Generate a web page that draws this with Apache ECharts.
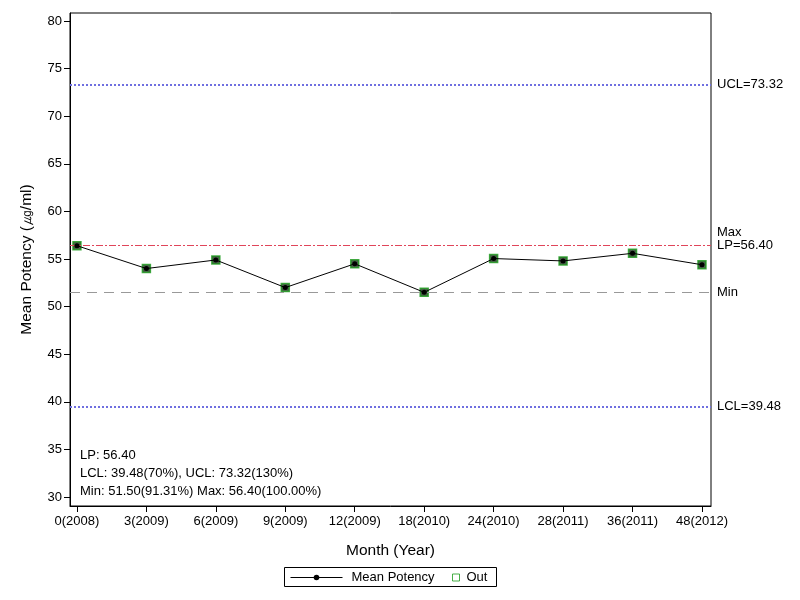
<!DOCTYPE html>
<html><head><meta charset="utf-8">
<script src="https://cdn.jsdelivr.net/npm/echarts@6/dist/echarts.min.js"></script>
<style>html,body{margin:0;padding:0;background:#fff}#c{width:800px;height:600px}</style>
</head><body><div id="c"></div>
<script>
const xLabels = ['0(2008)','3(2009)','6(2009)','9(2009)','12(2009)','18(2010)','24(2010)','28(2011)','36(2011)','48(2012)'];
const meanPotency = [56.4, 54.0, 54.9, 52.0, 54.5, 51.5, 55.05, 54.8, 55.6, 54.4];
const outValues = [56.4, 54.0, 54.9, 52.0, 54.5, 51.5, 55.05, 54.8, 55.6, 54.4];
const yTicks = [30,35,40,45,50,55,60,65,70,75,80];
const refLines = { UCL: 73.32, LCL: 39.48, LP: 56.40, Min: 51.50 };
const noteLines = ['LP: 56.40','LCL: 39.48(70%), UCL: 73.32(130%)','Min: 51.50(91.31%) Max: 56.40(100.00%)'];

const FONT = 'Liberation Sans, Arial, sans-serif';
const chart = echarts.init(document.getElementById('c'));
const idx = xLabels.map((_, i) => i);
const lbl = (t, extra) => Object.assign({show:true, position:'end', distance:6, formatter:t, color:'#000', fontSize:13, fontFamily:FONT}, extra||{});
chart.setOption({
  animation:false,
  textStyle:{fontFamily:FONT},
  grid:{left:70, right:89, top:13, bottom:94, show:true, borderColor:'#000', borderWidth:1, backgroundColor:'transparent'},
  xAxis:{type:'value', min:-0.1, max:9.13,
    name:'Month (Year)', nameLocation:'middle', nameGap:37, nameTextStyle:{fontSize:15.5, color:'#000', fontFamily:FONT},
    axisLine:{show:true, onZero:false, lineStyle:{color:'#000'}},
    axisTick:{show:true, inside:false, length:6, lineStyle:{color:'#000'}, customValues:idx},
    axisLabel:{color:'#000', fontSize:13, margin:9, customValues:idx, formatter:v => xLabels[Math.round(v)]},
    splitLine:{show:false}},
  yAxis:{type:'value', min:29.05, max:80.85,
    name:'Mean Potency (㎍/ml)', nameLocation:'middle', nameGap:35, nameTextStyle:{fontSize:15.5, color:'#000', fontFamily:FONT},
    axisLine:{show:true, onZero:false, lineStyle:{color:'#000'}},
    axisTick:{show:true, inside:false, length:6, lineStyle:{color:'#000'}, customValues:yTicks},
    axisLabel:{color:'#000', fontSize:13, margin:8, customValues:yTicks},
    splitLine:{show:false}},
  legend:[
    {left:290, top:571, itemGap:0, padding:0, textStyle:{fontSize:13, color:'#000', fontFamily:FONT, padding:[0,0,0,4]},
      itemWidth:52, itemHeight:7, lineStyle:{width:1}, data:[{name:'Mean Potency'}]},
    {left:452, top:571, padding:0, itemGap:0, textStyle:{fontSize:13, color:'#000', fontFamily:FONT, padding:[0,0,0,2]},
      itemWidth:7, itemHeight:7, data:[{name:'Out', icon:'rect', itemStyle:{color:'rgba(0,0,0,0)', borderColor:'#1a9a1a', borderWidth:1}}]}
  ],
  graphic: noteLines.map((t, i) => ({type:'text', left:80, top:449 + i*18, style:{text:t, fontSize:13, fill:'#000', fontFamily:FONT}}))
    .concat([{type:'rect', shape:{x:284.5, y:567.5, width:212, height:19}, style:{fill:'none', stroke:'#000', lineWidth:1}, silent:true}]),
  series:[
    {name:'Mean Potency', type:'line', data: meanPotency.map((v,i)=>[i,v]), symbol:'circle', symbolSize:5,
      lineStyle:{color:'#000', width:1}, itemStyle:{color:'#000'}, z:5,
      markLine:{silent:true, symbol:'none', animation:false, data:[
        {yAxis:refLines.UCL, lineStyle:{color:'#6f6fe0', type:[2,2], width:2}, label:lbl('UCL='+refLines.UCL.toFixed(2))},
        {yAxis:refLines.LCL, lineStyle:{color:'#6f6fe0', type:[2,2], width:2}, label:lbl('LCL='+refLines.LCL.toFixed(2))},
        {yAxis:refLines.LP, lineStyle:{color:'#e0455a', type:[7,2,2,2], width:1, opacity:1}, label:lbl('LP='+refLines.LP.toFixed(2))},
        {yAxis:refLines.Min, lineStyle:{color:'#999', type:[10,7], width:1}, label:lbl('Min', {padding:[3,0,0,0]})}
      ]}},
    {name:'Out', type:'scatter', data: outValues.map((v,i)=>[i,v]), symbol:'rect', symbolSize:8,
      itemStyle:{color:'#1c3a1c', borderColor:'#1a9a1a', borderWidth:1.5}, z:4,
      markLine:{silent:true, symbol:'none', animation:false, data:[
        {yAxis:refLines.LP, lineStyle:{color:'rgba(0,0,0,0)', width:0}, label:lbl('Max', {verticalAlign:'bottom', padding:[0,0,7,0]})}
      ]}}
  ]
});
</script></body></html>
